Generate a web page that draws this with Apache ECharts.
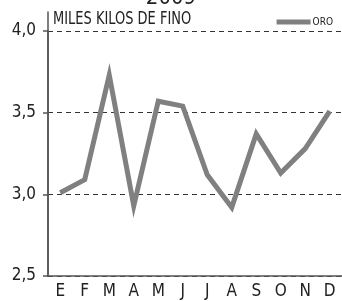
<!DOCTYPE html>
<html>
<head>
<meta charset="utf-8">
<script src="https://cdn.jsdelivr.net/npm/echarts@6/dist/echarts.min.js"></script>
<style>
    html, body { margin: 0; padding: 0; background: #fff; }
    #main { width: 342px; height: 301px; }
</style>
</head>
<body>
<div id="main"></div>
<script>
// datos
var meses = ['E', 'F', 'M', 'A', 'M', 'J', 'J', 'A', 'S', 'O', 'N', 'D'];
var oro = [3.01, 3.09, 3.73, 2.93, 3.57, 3.54, 3.12, 2.92, 3.37, 3.13, 3.28, 3.51];
var ticksY = [2.5, 3.0, 3.5, 4.0];

var fuente = "'DejaVu Sans Condensed', 'Roboto', sans-serif";

var oChart = echarts.init(document.getElementById('main'));

var opt = {
    animation: false,
    textStyle: { fontFamily: fuente },
    title: {
        text: '2009',
        left: 'center',
        top: -18,
        textStyle: { fontFamily: fuente, fontSize: 22, fontWeight: 'normal', color: '#222' }
    },
    graphic: [{
        type: 'text',
        x: 53,
        y: 11,
        scaleX: 0.85,
        style: { text: 'MILES KILOS DE FINO', font: '17px ' + fuente, fill: '#222' }
    }],
    legend: {
        data: ['ORO'],
        right: 4,
        top: 12,
        itemWidth: 34,
        itemHeight: 5,
        icon: 'rect',
        textStyle: { fontFamily: fuente, fontSize: 10, color: '#222', padding: [0, 0, 0, -3] }
    },
    grid: [
        { left: 48, right: 0, top: 31, bottom: 25 },
        { left: 48, right: 0, top: 12, bottom: 25 }
    ],
    xAxis: [{
        type: 'category',
        data: meses,
        gridIndex: 0,
        boundaryGap: true,
        axisLine: { lineStyle: { color: '#555', width: 1.5 } },
        axisTick: { length: 7, lineStyle: { color: '#555', width: 1.5 } },
        axisLabel: { fontFamily: fuente, fontSize: 17, color: '#222', margin: 7 }
    }, {
        type: 'category',
        data: meses,
        gridIndex: 1,
        show: false
    }],
    yAxis: [{
        type: 'value',
        gridIndex: 0,
        min: ticksY[0],
        max: ticksY[ticksY.length - 1],
        interval: 0.5,
        axisLine: { show: true, lineStyle: { color: '#555', width: 1.5 } },
        axisTick: { show: true, length: 5, lineStyle: { color: '#555', width: 1.5 } },
        axisLabel: {
            fontFamily: fuente, fontSize: 17, color: '#222', margin: 12,
            formatter: function (v) { return v.toFixed(1).replace('.', ','); }
        },
        splitLine: { show: true, lineStyle: { color: '#333', type: [5, 4], width: 1 } }
    }, {
        type: 'value',
        gridIndex: 1,
        axisLine: { show: true, lineStyle: { color: '#555', width: 1.5 } },
        axisTick: { show: false },
        axisLabel: { show: false },
        splitLine: { show: false }
    }],
    series: [{
        name: 'ORO',
        type: 'line',
        xAxisIndex: 0,
        yAxisIndex: 0,
        data: oro,
        symbol: 'none',
        color: '#808080',
        lineStyle: { color: '#808080', width: 5, join: 'miter' }
    }]
};

oChart.setOption(opt);
</script>
</body>
</html>
